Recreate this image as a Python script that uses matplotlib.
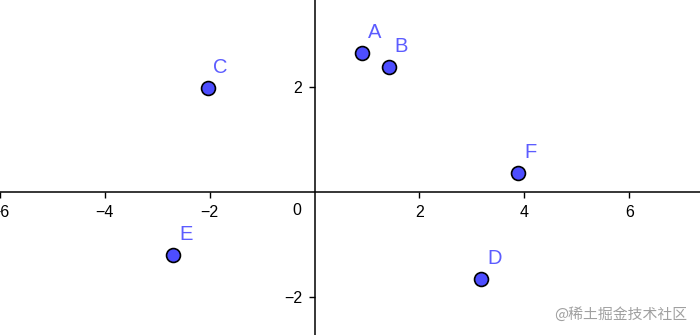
import matplotlib.pyplot as plt

# point data
names = ["A", "B", "C", "D", "E", "F"]
xs = [0.9, 1.41, -2.04, 3.18, -2.7, 3.87]
ys = [2.65, 2.38, 1.98, -1.66, -1.2, 0.36]

xticks = [-6, -4, -2, 2, 4, 6]
yticks = [-2, 2]

plt.rcParams['font.family'] = ['Liberation Sans', 'DejaVu Sans']

fig = plt.figure(figsize=(7, 3.35), dpi=100)
ax = fig.add_axes([0, 0, 1, 1])
ax.set_xlim(-5.98, 7.35)
ax.set_ylim(-2.72, 3.66)

# axes through the origin
for s in ["top", "right"]:
    ax.spines[s].set_visible(False)
ax.spines["left"].set_position(("data", 0))
ax.spines["bottom"].set_position(("data", 0))
ax.spines["left"].set_linewidth(1.1)
ax.spines["bottom"].set_linewidth(1.1)

ax.set_xticks(xticks)
ax.set_xticklabels(["\u2212%d" % -t if t < 0 else str(t) for t in xticks])
ax.set_yticks(yticks)
ax.set_yticklabels(["\u2212%d" % -t if t < 0 else str(t) for t in yticks])
ax.tick_params(direction="out", length=4, width=1, labelsize=11.5, pad=5)
ax.text(-0.34, -0.35, "0", fontsize=11.5, ha="center", va="center")

ax.plot(xs, ys, "o", markersize=10, markerfacecolor="#4d4dff",
        markeredgecolor="black", markeredgewidth=1.2, zorder=3)
for n, x, y in zip(names, xs, ys):
    ax.annotate(n, (x, y), xytext=(13, 21), textcoords="offset pixels",
                color="#5c5cff", fontsize=14.5, ha="center", va="center")

fig.text(0.887, 0.06, "@稀土掘金技术社区", color="#a0a0a0", fontsize=10.7,
         ha="center", va="center", family=["Noto Sans CJK SC", "DejaVu Sans"])

fig.savefig("out.png", dpi=100)
